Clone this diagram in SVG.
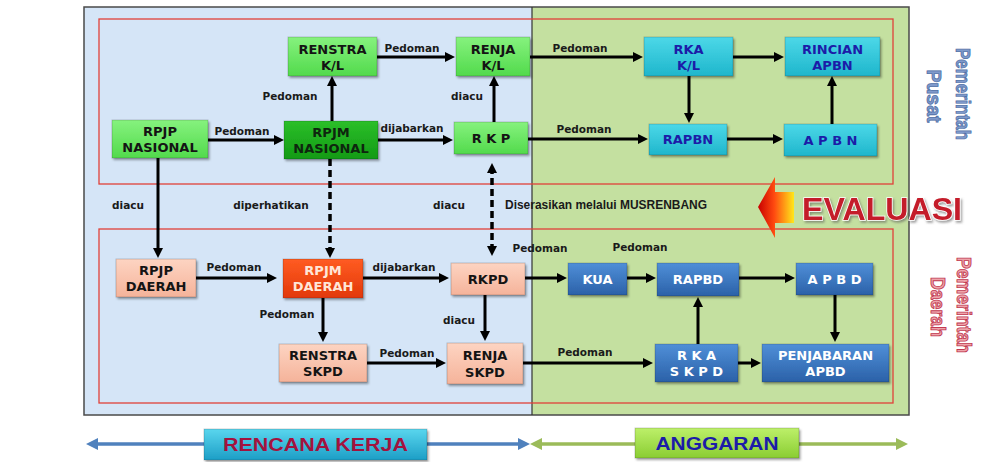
<svg xmlns="http://www.w3.org/2000/svg" width="1001" height="462" viewBox="0 0 1001 462">
<style>
.nr{stroke:rgba(0,0,0,0.18);stroke-width:1;filter:url(#sh)}
.nt{font-family:"DejaVu Sans",Verdana,sans-serif;font-weight:bold;font-size:13px;text-anchor:middle}
.dark{fill:#141414}
.blu{fill:#1c1ca8}
.wht{fill:#ffffff}
.pale{fill:#ffe6d8}
.lbl{font-family:"DejaVu Sans",Verdana,sans-serif;font-weight:bold;font-size:10.5px;fill:#1a1a1a;text-anchor:middle}
.c{stroke:#000;stroke-width:3;fill:none;marker-end:url(#ah)}
.d{stroke-dasharray:7 4;stroke-width:3.5}
.redbox{fill:none;stroke:#e0413a;stroke-width:1.3}
</style>
<defs>
<filter id="sh" x="-10%" y="-10%" width="130%" height="140%"><feDropShadow dx="1.5" dy="2" stdDeviation="1.2" flood-color="#000" flood-opacity="0.35"/></filter>
<filter id="ts" x="-10%" y="-20%" width="130%" height="150%"><feDropShadow dx="1.5" dy="2" stdDeviation="1.2" flood-color="#555" flood-opacity="0.55"/></filter>
<marker id="ah" viewBox="0 0 10 10" refX="6" refY="5" markerWidth="10" markerHeight="10" markerUnits="userSpaceOnUse" orient="auto-start-reverse"><path d="M0,0 L10,5 L0,10 z" fill="#000"/></marker>
<marker id="bh" viewBox="0 0 12 12" refX="6" refY="6" markerWidth="12" markerHeight="12" markerUnits="userSpaceOnUse" orient="auto-start-reverse"><path d="M0,0 L12,6 L0,12 z" fill="#4f81bd"/></marker>
<marker id="gh" viewBox="0 0 12 12" refX="6" refY="6" markerWidth="12" markerHeight="12" markerUnits="userSpaceOnUse" orient="auto-start-reverse"><path d="M0,0 L12,6 L0,12 z" fill="#9bbb59"/></marker>
<linearGradient id="gG" x1="0" y1="0" x2="0" y2="1"><stop offset="0" stop-color="#86f27e"/><stop offset="1" stop-color="#52da4c"/></linearGradient>
<linearGradient id="gD" x1="0" y1="0" x2="0" y2="1"><stop offset="0" stop-color="#2cbf2a"/><stop offset="1" stop-color="#129a14"/></linearGradient>
<linearGradient id="gC" x1="0" y1="0" x2="0" y2="1"><stop offset="0" stop-color="#4cd8e8"/><stop offset="1" stop-color="#1fb6cc"/></linearGradient>
<linearGradient id="gP" x1="0" y1="0" x2="0" y2="1"><stop offset="0" stop-color="#fdd4c2"/><stop offset="1" stop-color="#f5b39a"/></linearGradient>
<linearGradient id="gO" x1="0" y1="0" x2="0" y2="1"><stop offset="0" stop-color="#ff5c22"/><stop offset="1" stop-color="#e2380a"/></linearGradient>
<linearGradient id="gB" x1="0" y1="0" x2="0" y2="1"><stop offset="0" stop-color="#4f8fd8"/><stop offset="1" stop-color="#2b61a8"/></linearGradient>
<linearGradient id="gRK" x1="0" y1="0" x2="0" y2="1"><stop offset="0" stop-color="#5ad6ee"/><stop offset="1" stop-color="#1c9ec6"/></linearGradient>
<linearGradient id="gAN" x1="0" y1="0" x2="0" y2="1"><stop offset="0" stop-color="#bdf06a"/><stop offset="1" stop-color="#8acd32"/></linearGradient>
<linearGradient id="gEv" x1="0" y1="0" x2="1" y2="0"><stop offset="0" stop-color="#c80000"/><stop offset="0.45" stop-color="#ff4a10"/><stop offset="1" stop-color="#ffe81a"/></linearGradient>
</defs>

<!-- background frame -->
<g id="frame">
<rect x="84" y="7" width="448" height="408" fill="#d5e5f7"/>
<rect x="532" y="7" width="377" height="408" fill="#c4e0a0"/>
<rect x="84" y="7" width="825" height="408" fill="none" stroke="#4a4a4a" stroke-width="1.5"/>
<line x1="532" y1="7" x2="532" y2="415" stroke="#333" stroke-width="1.2"/>
<rect class="redbox" x="99" y="19" width="794" height="165"/>
<rect class="redbox" x="99" y="229" width="794" height="174"/>
</g>

<!-- connectors -->
<g id="connectors">
<line class="c" x1="208" y1="140" x2="280" y2="140"/>
<line class="c" x1="378" y1="140" x2="449" y2="140"/>
<line class="c" x1="332" y1="121" x2="332" y2="80"/>
<line class="c" x1="377" y1="57" x2="451" y2="57"/>
<line class="c" x1="494" y1="122" x2="494" y2="80"/>
<line class="c" x1="530" y1="57" x2="639" y2="57"/>
<line class="c" x1="733" y1="57" x2="780" y2="57"/>
<line class="c" x1="689" y1="76" x2="689" y2="119"/>
<line class="c" x1="528" y1="139" x2="644" y2="139"/>
<line class="c" x1="727" y1="139" x2="779" y2="139"/>
<line class="c" x1="832" y1="124" x2="832" y2="80"/>
<line class="c" x1="158" y1="158" x2="158" y2="254"/>
<line class="c d" x1="330" y1="159" x2="330" y2="254"/>
<line class="c d" x1="492" y1="167" x2="492" y2="252" marker-start="url(#ah)"/>
<line class="c" x1="196" y1="278" x2="273" y2="278"/>
<line class="c" x1="363" y1="278" x2="445" y2="278"/>
<line class="c" x1="323" y1="298" x2="323" y2="338"/>
<line class="c" x1="485" y1="295" x2="485" y2="337"/>
<line class="c" x1="367" y1="363" x2="442" y2="363"/>
<line class="c" x1="525" y1="278" x2="563" y2="278"/>
<line class="c" x1="627" y1="278" x2="652" y2="278"/>
<line class="c" x1="739" y1="278" x2="791" y2="278"/>
<line class="c" x1="835" y1="295" x2="835" y2="338"/>
<line class="c" x1="698" y1="344" x2="698" y2="301"/>
<line class="c" x1="523" y1="363" x2="649" y2="363"/>
<line class="c" x1="738" y1="363" x2="757" y2="363"/>
</g>

<!-- connector labels -->
<g id="labels">
<text class="lbl" x="412" y="52">Pedoman</text>
<text class="lbl" x="290" y="100">Pedoman</text>
<text class="lbl" x="467" y="100">diacu</text>
<text class="lbl" x="242" y="135">Pedoman</text>
<text class="lbl" x="412" y="132">dijabarkan</text>
<text class="lbl" x="580" y="52">Pedoman</text>
<text class="lbl" x="584" y="133">Pedoman</text>
<text class="lbl" x="128" y="209">diacu</text>
<text class="lbl" x="271" y="209">diperhatikan</text>
<text class="lbl" x="449" y="209">diacu</text>
<text x="505" y="209" font-family="'Liberation Sans',Arial,sans-serif" font-weight="bold" font-size="12" fill="#1a1a1a" textLength="202" lengthAdjust="spacingAndGlyphs">Diserasikan melalui MUSRENBANG</text>
<text class="lbl" x="540" y="252">Pedoman</text>
<text class="lbl" x="640" y="251">Pedoman</text>
<text class="lbl" x="234" y="271">Pedoman</text>
<text class="lbl" x="404" y="271">dijabarkan</text>
<text class="lbl" x="287" y="318">Pedoman</text>
<text class="lbl" x="459" y="324">diacu</text>
<text class="lbl" x="407" y="357">Pedoman</text>
<text class="lbl" x="585" y="356">Pedoman</text>
</g>

<!-- upper nodes (Pemerintah Pusat) -->
<g id="renstra-kl"><rect class="nr" x="288" y="37" width="89" height="39" fill="url(#gG)"/><text class="nt dark" x="332.5" y="54">RENSTRA</text><text class="nt dark" x="332.5" y="70">K/L</text></g>
<g id="renja-kl"><rect class="nr" x="456" y="37" width="74" height="39" fill="url(#gG)"/><text class="nt dark" x="493" y="54">RENJA</text><text class="nt dark" x="493" y="70">K/L</text></g>
<g id="rpjp-nasional"><rect class="nr" x="112" y="120" width="96" height="38" fill="url(#gG)"/><text class="nt dark" x="160" y="136">RPJP</text><text class="nt dark" x="160" y="152">NASIONAL</text></g>
<g id="rpjm-nasional"><rect class="nr" x="284" y="121" width="94" height="38" fill="url(#gD)"/><text class="nt" fill="#0e260e" x="331" y="137">RPJM</text><text class="nt" fill="#0e260e" x="331" y="153">NASIONAL</text></g>
<g id="rkp"><rect class="nr" x="454" y="122" width="74" height="32" fill="url(#gG)"/><text class="nt dark" x="491" y="143">R K P</text></g>
<g id="rka-kl"><rect class="nr" x="644" y="37" width="89" height="39" fill="url(#gC)"/><text class="nt blu" x="688.5" y="54">RKA</text><text class="nt blu" x="688.5" y="70">K/L</text></g>
<g id="rincian-apbn"><rect class="nr" x="785" y="37" width="95" height="39" fill="url(#gC)"/><text class="nt blu" x="832.5" y="54">RINCIAN</text><text class="nt blu" x="832.5" y="70">APBN</text></g>
<g id="rapbn"><rect class="nr" x="649" y="124" width="78" height="31" fill="url(#gC)"/><text class="nt blu" x="688" y="144">RAPBN</text></g>
<g id="apbn"><rect class="nr" x="784" y="124" width="93" height="32" fill="url(#gC)"/><text class="nt blu" x="830.5" y="145">A P B N</text></g>

<!-- lower nodes (Pemerintah Daerah) -->
<g id="rpjp-daerah"><rect class="nr" x="116" y="259" width="80" height="38" fill="url(#gP)"/><text class="nt dark" x="156" y="275">RPJP</text><text class="nt dark" x="156" y="291">DAERAH</text></g>
<g id="rpjm-daerah"><rect class="nr" x="283" y="259" width="80" height="39" fill="url(#gO)"/><text class="nt pale" x="323" y="275">RPJM</text><text class="nt pale" x="323" y="291">DAERAH</text></g>
<g id="rkpd"><rect class="nr" x="451" y="263" width="74" height="32" fill="url(#gP)"/><text class="nt dark" x="488" y="284">RKPD</text></g>
<g id="renstra-skpd"><rect class="nr" x="279" y="344" width="88" height="38" fill="url(#gP)"/><text class="nt dark" x="323" y="360">RENSTRA</text><text class="nt dark" x="323" y="376">SKPD</text></g>
<g id="renja-skpd"><rect class="nr" x="447" y="343" width="76" height="41" fill="url(#gP)"/><text class="nt dark" x="485" y="360">RENJA</text><text class="nt dark" x="485" y="377">SKPD</text></g>
<g id="kua"><rect class="nr" x="568" y="263" width="59" height="32" fill="url(#gB)"/><text class="nt wht" x="597.5" y="284">KUA</text></g>
<g id="rapbd"><rect class="nr" x="657" y="263" width="82" height="33" fill="url(#gB)"/><text class="nt wht" x="698" y="284">RAPBD</text></g>
<g id="apbd"><rect class="nr" x="796" y="263" width="77" height="32" fill="url(#gB)"/><text class="nt wht" x="834.5" y="284">A P B D</text></g>
<g id="rka-skpd"><rect class="nr" x="655" y="344" width="83" height="38" fill="url(#gB)"/><text class="nt wht" x="696.5" y="360">R K A</text><text class="nt wht" x="696.5" y="376">S K P D</text></g>
<g id="penjabaran-apbd"><rect class="nr" x="762" y="344" width="127" height="38" fill="url(#gB)"/><text class="nt wht" x="825.5" y="360">PENJABARAN</text><text class="nt wht" x="825.5" y="376">APBD</text></g>

<!-- evaluasi -->
<g id="evaluasi">
<polygon points="758,207 775,177 775,192 794,192 794,223 775,223 775,238" fill="url(#gEv)"/>
<text x="802" y="220" font-family="'Liberation Sans',Arial,sans-serif" font-weight="bold" font-size="32" fill="#c41e2c" stroke="#ffffff" stroke-width="1.5" paint-order="stroke" textLength="160" lengthAdjust="spacingAndGlyphs" filter="url(#ts)">EVALUASI</text>
</g>

<!-- side labels -->
<g id="pemerintah-pusat" font-family="'Liberation Sans',Arial,sans-serif" font-weight="bold" font-size="20" text-anchor="middle" fill="#7f9acb" stroke="#4f6fa6" stroke-width="0.8">
<text transform="translate(956,94) rotate(90)" textLength="92" lengthAdjust="spacingAndGlyphs">Pemerintah</text>
<text transform="translate(927,96) rotate(90)" textLength="53" lengthAdjust="spacingAndGlyphs">Pusat</text>
</g>
<g id="pemerintah-daerah" font-family="'Liberation Sans',Arial,sans-serif" font-weight="bold" font-size="20" text-anchor="middle" fill="#eea4aa" stroke="#c23a52" stroke-width="0.9">
<text transform="translate(957,305) rotate(90)" textLength="96" lengthAdjust="spacingAndGlyphs">Pemerintah</text>
<text transform="translate(931,307) rotate(90)" textLength="60" lengthAdjust="spacingAndGlyphs">Daerah</text>
</g>

<!-- bottom bar -->
<g id="rencana-kerja">
<line x1="92" y1="444" x2="524" y2="444" stroke="#4f81bd" stroke-width="3.5" marker-start="url(#bh)" marker-end="url(#bh)"/>
<rect class="nr" x="204" y="429" width="223" height="31" fill="url(#gRK)"/>
<text x="315.5" y="451" font-family="'Liberation Sans',Arial,sans-serif" font-weight="bold" font-size="19" fill="#a3123e" text-anchor="middle" textLength="185" lengthAdjust="spacingAndGlyphs">RENCANA KERJA</text>
</g>
<g id="anggaran">
<line x1="536" y1="444" x2="902" y2="444" stroke="#9bbb59" stroke-width="3.5" marker-start="url(#gh)" marker-end="url(#gh)"/>
<rect class="nr" x="635" y="428" width="164" height="30" fill="url(#gAN)"/>
<text x="717" y="450" font-family="'Liberation Sans',Arial,sans-serif" font-weight="bold" font-size="19" fill="#1c1ca8" text-anchor="middle" textLength="123" lengthAdjust="spacingAndGlyphs">ANGGARAN</text>
</g>
</svg>
